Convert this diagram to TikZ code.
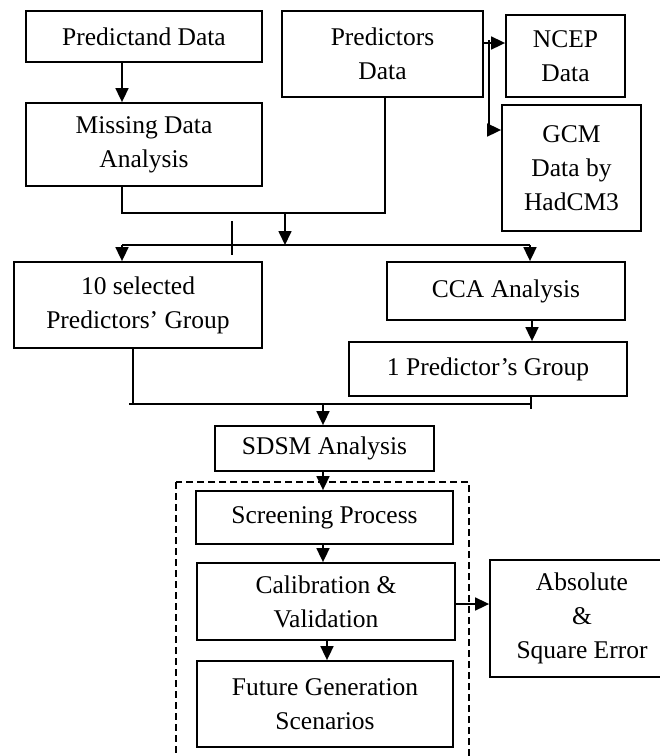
\documentclass[tikz,border=0pt]{standalone}
\usepackage{fontspec}
\setmainfont{Liberation Serif}
\usepackage{tikz}
\usetikzlibrary{arrows.meta}

\begin{document}
\begin{tikzpicture}[x=1pt, y=-1pt,
    caja/.style={draw, line width=1.8pt, align=center, inner sep=0pt,
        font=\fontsize{25.5}{34}\selectfont},
    >={Triangle[length=14pt, width=13pt]}, line width=1.7pt]
        \useasboundingbox (0,0) rectangle (660,756);

        % Datos de entrada
        \node[caja, minimum width=236, minimum height=51] (pand) at (144,36.5) {Predictand Data};
        \node[caja, minimum width=236, minimum height=83] (miss) at (144,144.5) {Missing Data\\Analysis};
        \node[caja, minimum width=201, minimum height=86] (pors) at (382.5,54) {Predictors\\Data};
        \node[caja, minimum width=119, minimum height=82] (ncep) at (565.5,56) {NCEP\\Data};
        \node[caja, minimum width=139, minimum height=126] (gcm) at (571.5,168) {GCM\\Data by\\HadCM3};

        % Grupos de predictores
        \node[caja, minimum width=248, minimum height=86] (sel) at (138,305) {10 selected\\Predictors' Group};
        \node[caja, minimum width=238, minimum height=58] (cca) at (506,291) {CCA Analysis};
        \node[caja, minimum width=278, minimum height=54] (one) at (488,369) {1 Predictor's Group};

        % Modelo SDSM
        \node[caja, minimum width=219, minimum height=45] (sdsm) at (324.5,448.5) {SDSM Analysis};
        \node[caja, minimum width=257, minimum height=53] (scr) at (324.5,517.5) {Screening Process};
        \node[caja, minimum width=258, minimum height=77] (cal) at (326,601.5) {Calibration \&\\Validation};
        \node[caja, minimum width=256, minimum height=86] (fut) at (325,704) {Future Generation\\Scenarios};
        \node[caja, minimum width=184, minimum height=117] (abs) at (582,618.5) {Absolute\\\&\\Square Error};

        % Recuadro punteado del SDSM
        \draw[line width=1.4pt, dash pattern=on 7pt off 4pt] (176,482) rectangle (469,764);

        % Puntos de union
        \coordinate (p1) at (484,43);
        \coordinate (p2) at (489,40);
        \coordinate (p3) at (489,130);
        \coordinate (j1) at (122,213);
        \coordinate (j2) at (385,213);
        \coordinate (m1) at (285,213);
        \coordinate (m2) at (285,245);
        \coordinate (b1) at (122,245);
        \coordinate (b2) at (530,245);
        \coordinate (t1) at (232,221);
        \coordinate (t2) at (232,255);
        \coordinate (c0) at (129,404);
        \coordinate (c1) at (133,404);
        \coordinate (c2) at (531,404);
        \coordinate (c3) at (531,409);
        \coordinate (c4) at (323,404);

        % Flechas de la parte superior
        \draw[->] ([xshift=-22]pand.south) -- ([xshift=-22]miss.north);
        \draw[->] (p1) -- (p1 -| ncep.west);
        \draw (p2) -- (p3);
        \draw[->] (p3) -- (p3 -| gcm.west);
        \draw (miss.south -| j1) -- (j1) -- (j2) -- (pors.south -| j2);
        \draw[->] (m1) -- (m2);
        \draw (b1) -- (b2);
        \draw (t1) -- (t2);
        \draw[->] (b1) -- (sel.north -| b1);
        \draw[->] (b2) -- (cca.north -| b2);
        \draw[->] ([xshift=26]cca.south) -- ([xshift=26]cca.south |- one.north);

        % Union hacia el SDSM
        \draw (sel.south -| c1) -- (c1);
        \draw (c0) -- (c2);
        \draw (one.south -| c2) -- (c3);
        \draw[->] (c4) -- (sdsm.north -| c4);

        % Flechas dentro del recuadro
        \draw[->] ([xshift=-1.5]sdsm.south) -- ([xshift=-1.5]sdsm.south |- scr.north);
        \draw[->] ([xshift=-1.5]scr.south) -- ([xshift=-1.5]scr.south |- cal.north);
        \draw[->] ([xshift=1]cal.south) -- ([xshift=1]cal.south |- fut.north);
        \draw[->] ([yshift=-2.5]cal.east) -- ([yshift=-2.5]cal.east -| abs.west);

    \end{tikzpicture}
\end{document}
